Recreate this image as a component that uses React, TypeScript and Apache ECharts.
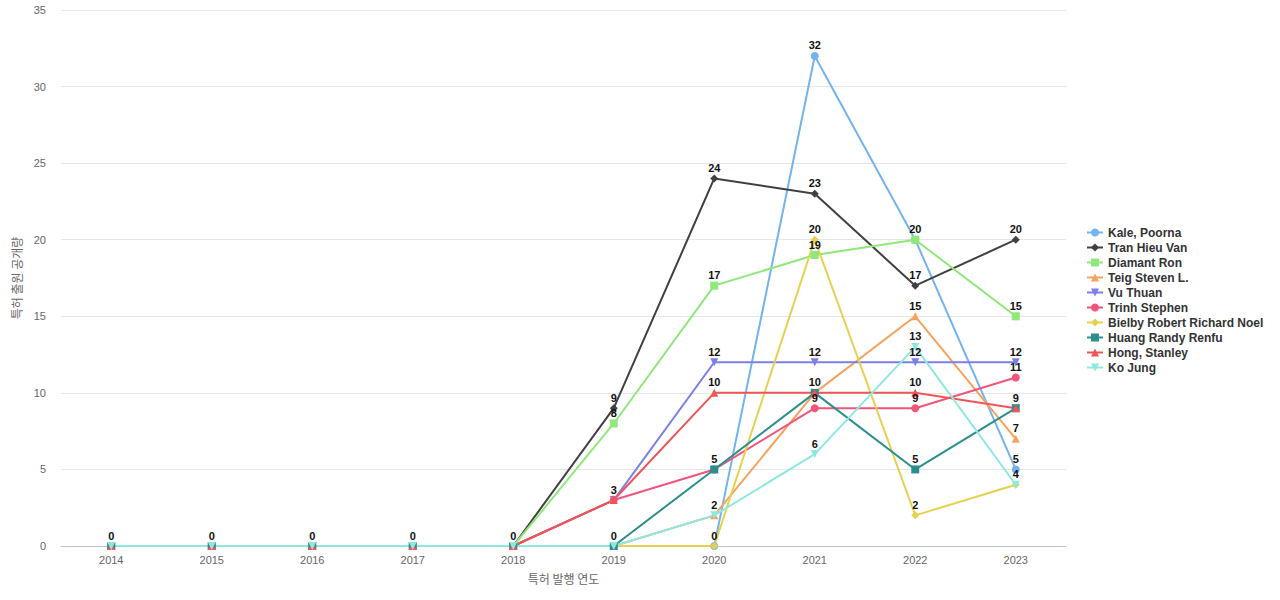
import React, { useEffect, useRef } from "react";
import * as echarts from "echarts";

const years = ["2014", "2015", "2016", "2017", "2018", "2019", "2020", "2021", "2022", "2023"];
const kale = [0, 0, 0, 0, 0, 0, 0, 32, 20, 5];
const tran = [0, 0, 0, 0, 0, 9, 24, 23, 17, 20];
const diamant = [0, 0, 0, 0, 0, 8, 17, 19, 20, 15];
const teig = [0, 0, 0, 0, 0, 0, 2, 10, 15, 7];
const vu = [0, 0, 0, 0, 0, 3, 12, 12, 12, 12];
const trinh = [0, 0, 0, 0, 0, 3, 5, 9, 9, 11];
const bielby = [0, 0, 0, 0, 0, 0, 0, 20, 2, 4];
const huang = [0, 0, 0, 0, 0, 0, 5, 10, 5, 9];
const hong = [0, 0, 0, 0, 0, 3, 10, 10, 10, 9];
const ko = [0, 0, 0, 0, 0, 0, 2, 6, 13, 4];

const seriesDefs = [
  { name: "Kale, Poorna", data: kale, color: "#73b3ef", symbol: "circle", rotate: 0 },
  { name: "Tran Hieu Van", data: tran, color: "#404040", symbol: "diamond", rotate: 0 },
  { name: "Diamant Ron", data: diamant, color: "#8fe87a", symbol: "rect", rotate: 0 },
  { name: "Teig Steven L.", data: teig, color: "#f7a25c", symbol: "triangle", rotate: 0 },
  { name: "Vu Thuan", data: vu, color: "#7b7fe6", symbol: "triangle", rotate: 180 },
  { name: "Trinh Stephen", data: trinh, color: "#f0557a", symbol: "circle", rotate: 0 },
  { name: "Bielby Robert Richard Noel", data: bielby, color: "#e6d14f", symbol: "diamond", rotate: 0 },
  { name: "Huang Randy Renfu", data: huang, color: "#2a8f8c", symbol: "rect", rotate: 0 },
  { name: "Hong, Stanley", data: hong, color: "#ef5556", symbol: "triangle", rotate: 0 },
  { name: "Ko Jung", data: ko, color: "#8ee8df", symbol: "triangle", rotate: 180 },
];

export default function App() {
  const ref = useRef<HTMLDivElement>(null);
  useEffect(() => {
    if (!ref.current) return;
    const chart = echarts.init(ref.current, null, { renderer: "svg" });
    chart.setOption({
      animation: false,
      textStyle: { fontFamily: "Liberation Sans, Arial, sans-serif" },
      grid: { left: 61, right: 214, top: 10, bottom: 54 },
      legend: {
        orient: "vertical",
        left: 1081,
        top: "middle",
        itemWidth: 16,
        itemHeight: 10,
        itemGap: 3,
        textStyle: { fontWeight: "bold", fontSize: 12, color: "#333" },
        data: seriesDefs.map((s) => s.name),
      },
      xAxis: {
        type: "category",
        data: years,
        name: "특허 발행 연도",
        nameLocation: "middle",
        nameGap: 26,
        nameTextStyle: { color: "#666", fontSize: 12, fontFamily: "Noto Sans CJK KR" },
        axisLine: { lineStyle: { color: "#b8c4d6" } },
        axisTick: { show: false },
        axisLabel: { color: "#666", fontSize: 11 },
      },
      yAxis: {
        type: "value",
        min: 0,
        max: 35,
        interval: 5,
        name: "특허 출원 공개량",
        nameLocation: "middle",
        nameGap: 38,
        nameTextStyle: { color: "#666", fontSize: 12, fontFamily: "Noto Sans CJK KR" },
        axisLabel: { color: "#666", fontSize: 11, margin: 15 },
        splitLine: { lineStyle: { color: "#e6e6e6" } },
      },
      series: seriesDefs.map((s) => ({
        name: s.name,
        type: "line",
        data: s.data,
        symbol: s.symbol,
        symbolRotate: s.rotate,
        symbolSize: 8,
        itemStyle: { color: s.color },
        lineStyle: { color: s.color, width: 2 },
        label: {
          show: true,
          position: "top",
          color: "#111",
          fontWeight: "bold",
          fontSize: 11,
          distance: 1,
        },
        labelLayout: { hideOverlap: true },
      })),
    });
    return () => chart.dispose();
  }, []);
  return <div ref={ref} style={{ width: 1280, height: 600, position: "absolute", left: 0, top: 0 }} />;
}
